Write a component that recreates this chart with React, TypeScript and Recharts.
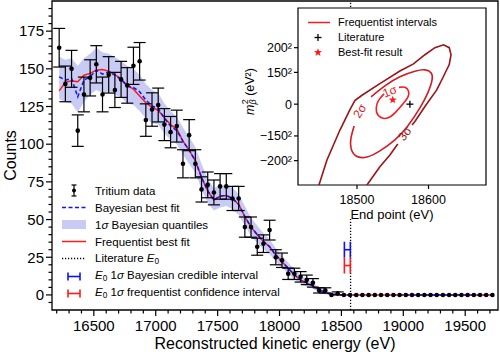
import React from 'react';
import {
  ComposedChart, Line, Area, Scatter, XAxis, YAxis, ErrorBar,
  ReferenceLine, ReferenceArea, Legend,
} from 'recharts';

const FONT = '"Liberation Sans", Arial, Helvetica, sans-serif';
const BLUE = '#1010ff';
const RED = '#ff1a1a';
const BAND = '#c8ccf5';
const RED1 = '#f41c22';
const RED2 = '#d01c24';
const RED3 = '#9a1418';

// ---- main spectrum ----
const ENERGY = [
  16220, 16270, 16320, 16370, 16420, 16470, 16520, 16570, 16620, 16670,
  16720, 16770, 16820, 16870, 16920, 16970, 17020, 17070, 17120, 17170,
  17220, 17270, 17320, 17370, 17420, 17470, 17520, 17570, 17620, 17670,
  17720, 17770, 17820, 17870, 17920, 17970, 18020, 18070, 18120, 18170,
  18220, 18270, 18320, 18370, 18420, 18470, 18520, 18570, 18620, 18670,
  18720, 18770, 18820, 18870, 18920, 18970, 19020, 19070, 19120, 19170,
  19220, 19270, 19320, 19370, 19420, 19470, 19520, 19570, 19620, 19670,
  19720,
];
const COUNTS = [
  164, 140, 150, 109, 133, 144, 153, 133, 146, 136,
  143, 139, 152, 155, 116, 123, 126, 113, 108, 112,
  87, 106, 87, 70, 73, 68, 72, 72, 64, 64,
  45, 45, 32, 34, 43, 25, 23, 14, 14, 12,
  10, 8, 3, 3, 0, 1, 0, 0, 0, 0,
  0, 0, 0, 0, 0, 0, 0, 0, 0, 0,
  0, 0, 0, 0, 0, 0, 0, 0, 0, 0,
  0,
];
const BAYES_FIT = [
  144.7, 142.5, 143.6, 131.4, 142.5, 144.7, 149.1, 146.5, 148, 145.8,
  142.9, 138.5, 137.6, 134.8, 129.3, 125.3, 123.7, 117.1, 112, 109,
  102, 96, 89, 78, 69, 63, 65.5, 66, 64, 60,
  52, 45, 40, 35.5, 32, 26.5, 22, 17.7, 13.3, 10,
  8, 6, 3.5, 1.5, 0.5, 0.2, 0, 0, 0, 0,
  0, 0, 0, 0, 0, 0, 0, 0, 0, 0,
  0, 0, 0, 0, 0, 0, 0, 0, 0, 0,
  0,
];
const FREQ_FIT = [
  135.4, 141, 142, 141.4, 145.8, 147, 149.1, 149.5, 148.5, 146,
  143.6, 139, 136.5, 132, 127.5, 124.5, 122.5, 117.5, 113, 110,
  102, 96, 89, 78, 69, 63, 65.5, 66, 64, 60,
  52, 45, 40, 35.5, 32, 26.5, 22, 17.7, 13.3, 10,
  8, 6, 3.5, 1.5, 0.5, 0.2, 0, 0, 0, 0,
  0, 0, 0, 0, 0, 0, 0, 0, 0, 0,
  0, 0, 0, 0, 0, 0, 0, 0, 0, 0,
  0,
];
const BAND_LOW = [
  130, 128, 127, 121, 128, 133, 136, 134, 135, 133,
  131, 127, 126, 122, 117, 114, 113, 107, 103, 100,
  93, 87, 81, 70, 61, 56, 58, 59, 57, 53,
  46, 39, 34.5, 30.5, 27, 22, 18, 14, 10, 7.5,
  5.5, 4, 2, 0.5, 0, 0, 0, 0, 0, 0,
  0, 0, 0, 0, 0, 0, 0, 0, 0, 0,
  0, 0, 0, 0, 0, 0, 0, 0, 0, 0,
  0,
];
const BAND_HIGH = [
  158, 156, 157, 152, 157, 160, 164, 161, 160, 158,
  155, 152, 150, 146, 140, 136, 134, 127, 122, 118,
  111, 105, 98, 87, 77, 71, 73, 73, 71, 67,
  59, 51, 46, 41, 37, 31, 26, 21.5, 17, 13,
  10.5, 8, 5, 3, 1.5, 0.5, 0, 0, 0, 0,
  0, 0, 0, 0, 0, 0, 0, 0, 0, 0,
  0, 0, 0, 0, 0, 0, 0, 0, 0, 0,
  0,
];
const LIT_E0 = 18574;
const BAYES_E0 = { e: 18548, n: 30, xerr: 24 };
const FREQ_E0 = { e: 18548, n: 19.5, xerr: 24 };

const X_DOMAIN = [16162, 19765];
const Y_DOMAIN = [-10, 195];
const MAJOR_X = [16500, 17000, 17500, 18000, 18500, 19000, 19500];
const MINOR_X = Array.from({ length: 36 }, (_, i) => 16200 + i * 100);
const MAJOR_Y = [0, 25, 50, 75, 100, 125, 150, 175];
const MINOR_Y = Array.from({ length: 40 }, (_, i) => -5 + i * 5);

// ---- inset: (E0, m^2) contours ----
const SIGMA1 = [
  [18558.7, 11900], [18567, 12000], [18572, 9400], [18571.3, 5200], [18564.3, 200],
  [18554.5, -5500], [18543.4, -9700], [18533.6, -9400], [18527.3, -5500], [18528, 200],
  [18532.2, 4100], [18537.8, 7300],
];
const SIGMA2 = [
  [18519.6, 5200], [18539, 13000], [18560, 19400], [18581, 23300], [18595, 24300],
  [18603.5, 22200], [18605, 17200], [18599, 8000], [18588, -2600], [18571, -15400],
  [18553, -25300], [18532, -33100], [18514, -37400], [18498.6, -36700], [18491.6, -31000],
  [18491.6, -23900], [18496, -15400],
];
const SIGMA3 = [
  [18440, -68000], [18458, -39500], [18476, -18500], [18490, -4000], [18497, 2500],
  [18507, 6300], [18532, 14500], [18560, 23500], [18579, 28500], [18595, 35000],
  [18609, 40000], [18621, 42000], [18629, 40000], [18631.5, 35000], [18629, 28000],
  [18620, 18700], [18611.5, 10100], [18595, -1700], [18581, -12300], [18577, -14700],
  [18567, null], [18557, -28200], [18546, -36000], [18532, -44300], [18514, -57200],
  [18507, -64300],
];
const BEST_FIT = [18550, 3000];
const LITERATURE = [18574, 0];
const CONTOUR_LABELS = [
  { e: 18546, m: 9000, text: '1σ', angle: -22, color: RED1 },
  { e: 18504, m: -4800, text: '2σ', angle: -58, color: RED2 },
  { e: 18567, m: -21000, text: '3σ', angle: -52, color: RED3 },
];
const M2_TICKS = [-40000, -22500, 0, 22500, 40000];
const M2_LABELS = ['−200²', '−150²', '0', '150²', '200²'];
const INSET_X = [18417.5, 18680.4];
const INSET_Y = [-57234, 68085];

const table = ENERGY.map((e, i) => ({
  e,
  n: COUNTS[i],
  err: Math.sqrt(COUNTS[i]),
  bayes: BAYES_FIT[i],
  freq: FREQ_FIT[i],
  band: [BAND_LOW[i], BAND_HIGH[i]],
}));
const pts = (arr: (number | null)[][]) => arr.map(([e, m]) => ({ e, m }));

const MainXTick = ({ x, y, payload }: any) => {
  const major = MAJOR_X.includes(payload.value);
  return (
    <g>
      <line x1={x} x2={x} y1={y} y2={y + (major ? 6 : 3.5)} stroke="#000" strokeWidth={1.2} />
      {major && (
        <text x={x} y={y + 21} textAnchor="middle" fontSize={15} fontFamily={FONT} fill="#000">
          {payload.value}
        </text>
      )}
    </g>
  );
};

const MainYTick = ({ x, y, payload }: any) => {
  const major = MAJOR_Y.includes(payload.value);
  return (
    <g>
      <line x1={x - (major ? 6 : 3.5)} x2={x} y1={y} y2={y} stroke="#000" strokeWidth={1.2} />
      {major && (
        <text x={x - 8} y={y + 5.3} textAnchor="end" fontSize={15} fontFamily={FONT} fill="#000">
          {payload.value}
        </text>
      )}
    </g>
  );
};

const Dot = (p: any) => <circle cx={p.cx} cy={p.cy} r={2.3} fill="#000" />;
const Empty = () => <g />;

const Sym = ({ kind }: { kind: string }) => {
  const c = 8.5;
  if (kind === 'data')
    return (
      <g stroke="#000" strokeWidth={1.2}>
        <line x1={16} x2={16} y1={3} y2={14} />
        <line x1={13.5} x2={18.5} y1={3} y2={3} />
        <line x1={13.5} x2={18.5} y1={14} y2={14} />
        <circle cx={16} cy={c} r={2} fill="#000" stroke="none" />
      </g>
    );
  if (kind === 'bayes') return <line x1={4} x2={28} y1={c} y2={c} stroke={BLUE} strokeWidth={1.5} strokeDasharray="4 2.5" />;
  if (kind === 'band') return <rect x={4} y={4} width={24} height={9} fill={BAND} />;
  if (kind === 'freq') return <line x1={4} x2={28} y1={c} y2={c} stroke={RED} strokeWidth={1.5} />;
  if (kind === 'lit') return <line x1={4} x2={28} y1={c} y2={c} stroke="#000" strokeWidth={1.3} strokeDasharray="1.2 1.8" />;
  const col = kind === 'bint' ? BLUE : RED;
  return (
    <g stroke={col} strokeWidth={1.6}>
      <line x1={10} x2={22} y1={c} y2={c} />
      <line x1={10} x2={10} y1={4.5} y2={12.5} />
      <line x1={22} x2={22} y1={4.5} y2={12.5} />
    </g>
  );
};

const E0 = () => (
  <>
    <i>E</i>
    <sub style={{ fontSize: '0.72em', verticalAlign: '-0.25em' }}>0</sub>
  </>
);

const MAIN_LEGEND = [
  { kind: 'data', label: <>Tritium data</> },
  { kind: 'bayes', label: <>Bayesian best fit</> },
  { kind: 'band', label: <>1<i>σ</i> Bayesian quantiles</> },
  { kind: 'freq', label: <>Frequentist best fit</> },
  { kind: 'lit', label: <>Literature <E0 /></> },
  { kind: 'bint', label: <><E0 /> 1<i>σ</i> Bayesian credible interval</> },
  { kind: 'fint', label: <><E0 /> 1<i>σ</i> frequentist confidence interval</> },
];

const MainLegend = () => (
  <div style={{ fontFamily: FONT, fontSize: 11.5, color: '#000', whiteSpace: 'nowrap' }}>
    {MAIN_LEGEND.map((r) => (
      <div key={r.kind} style={{ display: 'flex', alignItems: 'center', height: 17.1 }}>
        <svg width={37} height={17} style={{ flex: 'none' }}>
          <Sym kind={r.kind} />
        </svg>
        <span>{r.label}</span>
      </div>
    ))}
  </div>
);

const starPath = (cx: number, cy: number, R: number) => {
  const r = R * 0.42;
  let d = '';
  for (let k = 0; k < 10; k++) {
    const a = -Math.PI / 2 + (k * Math.PI) / 5;
    const rr = k % 2 === 0 ? R : r;
    d += `${k === 0 ? 'M' : 'L'}${cx + rr * Math.cos(a)},${cy + rr * Math.sin(a)}`;
  }
  return d + 'Z';
};
const Star = (p: any) => <path d={starPath(p.cx, p.cy, 4.2)} fill={RED} />;
const Plus = (p: any) => (
  <g stroke="#000" strokeWidth={1.3}>
    <line x1={p.cx - 3.5} x2={p.cx + 3.5} y1={p.cy} y2={p.cy} />
    <line x1={p.cx} x2={p.cx} y1={p.cy - 3.5} y2={p.cy + 3.5} />
  </g>
);
const ContourText = (p: any) => (
  <text
    x={p.cx}
    y={p.cy}
    transform={`rotate(${p.payload.angle} ${p.cx} ${p.cy})`}
    textAnchor="middle"
    dominantBaseline="central"
    fontSize={12}
    fontFamily={FONT}
    fill={p.payload.color}
  >
    {p.payload.text}
  </text>
);

const InsetLegend = () => (
  <div style={{ fontFamily: FONT, fontSize: 11, color: '#000', whiteSpace: 'nowrap' }}>
    <div style={{ display: 'flex', alignItems: 'center', height: 15 }}>
      <svg width={32} height={15} style={{ flex: 'none' }}>
        <line x1={2} x2={24} y1={7.5} y2={7.5} stroke={RED1} strokeWidth={1.5} />
      </svg>
      <span>Frequentist intervals</span>
    </div>
    <div style={{ display: 'flex', alignItems: 'center', height: 15 }}>
      <svg width={32} height={15} style={{ flex: 'none' }}>
        <Plus cx={12} cy={7.5} />
      </svg>
      <span>Literature</span>
    </div>
    <div style={{ display: 'flex', alignItems: 'center', height: 15 }}>
      <svg width={32} height={15} style={{ flex: 'none' }}>
        <Star cx={12} cy={7.5} />
      </svg>
      <span>Best-fit result</span>
    </div>
  </div>
);

const InsetYLabel = (props: any) => {
  const vb = props.viewBox ?? { x: 0, y: 8, width: 73, height: 177 };
  const cx = vb.x + 25;
  const cy = vb.y + vb.height / 2 - 5;
  return (
    <text
      transform={`translate(${cx},${cy}) rotate(-90)`}
      textAnchor="middle"
      dominantBaseline="central"
      fontSize={12.5}
      fontFamily={FONT}
      fill="#000"
    >
      <tspan fontStyle="italic">m</tspan>
      <tspan fontStyle="italic" fontSize={9} dy={3}>β</tspan>
      <tspan fontSize={9} dy={-8} dx={-5}>2</tspan>
      <tspan dy={5}> (eV²)</tspan>
    </text>
  );
};

const MainChart = () => (
  <ComposedChart width={500} height={352} data={table} margin={{ top: 1, right: 2, bottom: 0, left: 0 }}>
    <XAxis
      type="number"
      dataKey="e"
      domain={X_DOMAIN}
      allowDataOverflow
      ticks={MINOR_X}
      interval={0}
      tick={MainXTick}
      tickLine={false}
      axisLine={false}
      tickSize={0}
      tickMargin={0}
      height={42}
      label={{ value: 'Reconstructed kinetic energy (eV)', position: 'insideBottom', offset: 3, fontSize: 16, fill: '#000', fontFamily: FONT }}
    />
    <YAxis
      type="number"
      domain={Y_DOMAIN}
      allowDataOverflow
      ticks={MINOR_Y}
      interval={0}
      tick={MainYTick}
      tickLine={false}
      axisLine={false}
      tickSize={0}
      tickMargin={0}
      width={52}
      label={{ value: 'Counts', angle: -90, position: 'insideLeft', offset: 10, fontSize: 16, fill: '#000', fontFamily: FONT, style: { textAnchor: 'middle' } }}
    />
    <Area dataKey="band" type="linear" fill={BAND} fillOpacity={1} stroke="none" isAnimationActive={false} />
    <ReferenceLine x={LIT_E0} stroke="#000" strokeWidth={1.3} strokeDasharray="1.2 1.8" />
    <Line dataKey="freq" type="linear" stroke={RED} strokeWidth={1.5} dot={false} isAnimationActive={false} />
    <Line dataKey="bayes" type="linear" stroke={BLUE} strokeWidth={1.5} strokeDasharray="4 2.5" dot={false} isAnimationActive={false} />
    <Scatter dataKey="n" shape={Dot} isAnimationActive={false}>
      <ErrorBar dataKey="err" direction="y" width={6} stroke="#000" strokeWidth={1.2} />
    </Scatter>
    <Scatter data={[BAYES_E0]} dataKey="n" shape={Empty} isAnimationActive={false}>
      <ErrorBar dataKey="xerr" direction="x" width={8} stroke={BLUE} strokeWidth={1.6} />
    </Scatter>
    <Scatter data={[FREQ_E0]} dataKey="n" shape={Empty} isAnimationActive={false}>
      <ErrorBar dataKey="xerr" direction="x" width={8} stroke={RED} strokeWidth={1.6} />
    </Scatter>
    <ReferenceArea x1={X_DOMAIN[0]} x2={X_DOMAIN[1]} y1={Y_DOMAIN[0]} y2={Y_DOMAIN[1]} fill="none" stroke="#000" strokeWidth={1.3} />
    <Legend
      layout="vertical"
      align="center"
      verticalAlign="middle"
      content={() => <MainLegend />}
      wrapperStyle={{ left: 58, top: 182, width: 'auto', height: 'auto' }}
    />
  </ComposedChart>
);

const InsetChart = () => (
  <ComposedChart width={272} height={222} margin={{ top: 8, right: 11, bottom: 0, left: 0 }}>
    <XAxis
      type="number"
      dataKey="e"
      domain={INSET_X}
      allowDataOverflow
      ticks={[18500, 18600]}
      interval={0}
      axisLine={false}
      tickSize={4}
      tickMargin={6}
      tickLine={{ stroke: '#000', strokeWidth: 1.2 }}
      tick={{ fontSize: 12.5, fill: '#000', fontFamily: FONT }}
      height={37}
      label={{ value: 'End point (eV)', position: 'insideBottom', offset: 3, fontSize: 13, fill: '#000', fontFamily: FONT }}
    />
    <YAxis
      type="number"
      domain={INSET_Y}
      allowDataOverflow
      ticks={M2_TICKS}
      interval={0}
      tickFormatter={(v: number) => M2_LABELS[M2_TICKS.indexOf(v)]}
      axisLine={false}
      tickSize={4}
      tickMargin={2}
      tickLine={{ stroke: '#000', strokeWidth: 1.2 }}
      tick={{ fontSize: 12.5, fill: '#000', fontFamily: FONT }}
      width={73}
      label={InsetYLabel}
    />
    <Line data={pts(SIGMA3)} dataKey="m" type="linear" stroke={RED3} strokeWidth={1.6} dot={false} isAnimationActive={false} />
    <Line data={pts(SIGMA2)} dataKey="m" type="natural" stroke={RED2} strokeWidth={1.6} dot={false} isAnimationActive={false} />
    <Line data={pts(SIGMA1)} dataKey="m" type="natural" stroke={RED1} strokeWidth={1.6} dot={false} isAnimationActive={false} />
    <Scatter data={CONTOUR_LABELS} dataKey="m" shape={ContourText} isAnimationActive={false} />
    <Scatter data={[{ e: LITERATURE[0], m: LITERATURE[1] }]} dataKey="m" shape={Plus} isAnimationActive={false} />
    <Scatter data={[{ e: BEST_FIT[0], m: BEST_FIT[1] }]} dataKey="m" shape={Star} isAnimationActive={false} />
    <ReferenceArea x1={INSET_X[0]} x2={INSET_X[1]} y1={INSET_Y[0]} y2={INSET_Y[1]} fill="none" stroke="#000" strokeWidth={1.2} />
    <Legend
      layout="vertical"
      align="center"
      verticalAlign="middle"
      content={() => <InsetLegend />}
      wrapperStyle={{ left: 81, top: 14.5, width: 'auto', height: 'auto' }}
    />
  </ComposedChart>
);

export default function App() {
  return (
    <div style={{ position: 'absolute', left: 0, top: 0, width: 500, height: 352, background: '#fff', fontFamily: FONT }}>
      <div style={{ position: 'absolute', left: 0, top: 0 }}>
        <MainChart />
      </div>
      <div style={{ position: 'absolute', left: 262, top: 8, width: 232, height: 211, background: '#fff' }} />
      <div style={{ position: 'absolute', left: 225, top: 0 }}>
        <InsetChart />
      </div>
    </div>
  );
}
